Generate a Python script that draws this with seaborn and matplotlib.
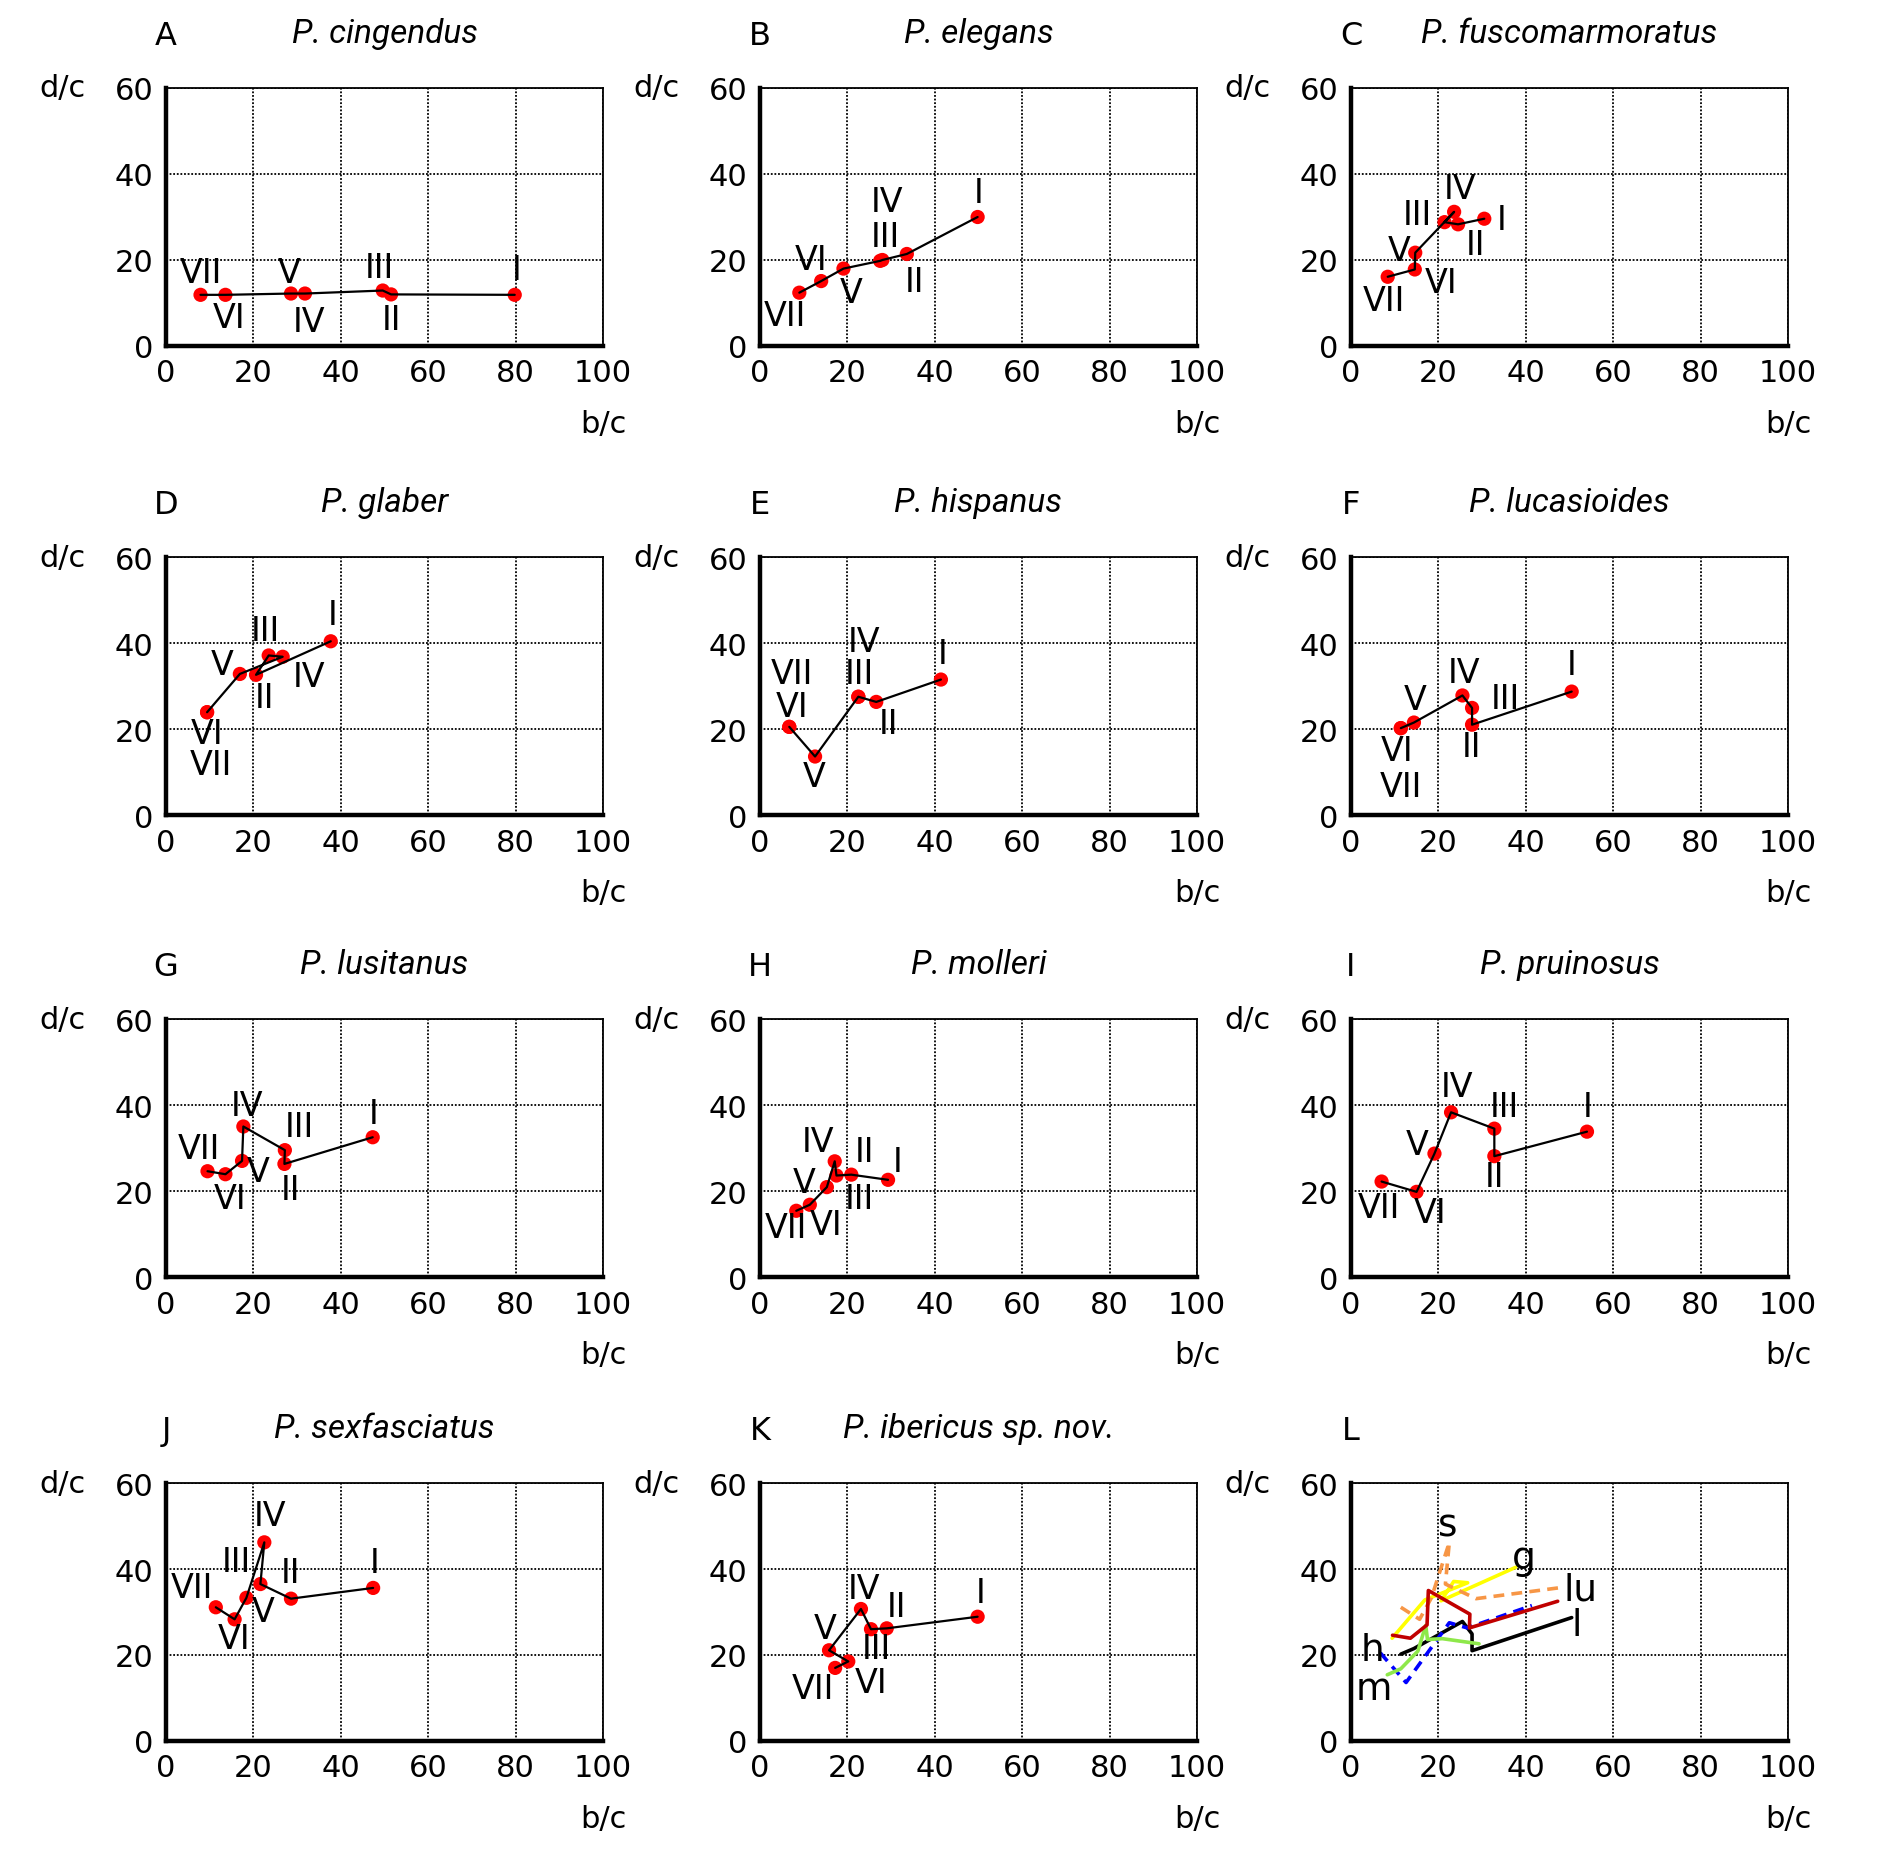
import matplotlib
matplotlib.use("Agg")
import matplotlib.pyplot as plt
import seaborn as sns

# ---------------- data ----------------
stages = ["VII", "VI", "V", "IV", "III", "II", "I"]

panel_letters = ["A", "B", "C", "D", "E", "F", "G", "H", "I", "J", "K", "L"]
species = ["P. cingendus", "P. elegans", "P. fuscomarmoratus", "P. glaber",
           "P. hispanus", "P. lucasioides", "P. lusitanus", "P. molleri",
           "P. pruinosus", "P. sexfasciatus", "P. ibericus sp. nov.", ""]

cingendus_bc = [7.9, 13.6, 28.6, 31.8, 49.6, 51.5, 79.8]
cingendus_dc = [11.9, 11.9, 12.2, 12.2, 12.9, 12.0, 11.9]
elegans_bc = [9.0, 14.0, 19.1, 27.5, 28.0, 33.6, 49.8]
elegans_dc = [12.4, 15.1, 18.0, 19.8, 20.0, 21.4, 30.0]
fuscomarmoratus_bc = [8.4, 14.6, 14.7, 23.6, 21.4, 24.5, 30.5]
fuscomarmoratus_dc = [16.1, 17.8, 21.7, 31.2, 28.8, 28.3, 29.6]
glaber_bc = [9.4, 9.4, 16.9, 26.7, 23.5, 20.6, 37.7]
glaber_dc = [23.9, 23.9, 32.8, 36.8, 37.1, 32.6, 40.4]
hispanus_bc = [6.7, 6.7, 12.6, 22.5, 22.5, 26.6, 41.4]
hispanus_dc = [20.5, 20.5, 13.6, 27.5, 27.5, 26.3, 31.5]
lucasioides_bc = [11.4, 11.4, 14.4, 25.5, 27.7, 27.7, 50.5]
lucasioides_dc = [20.2, 20.2, 21.5, 27.8, 24.9, 21.0, 28.7]
lusitanus_bc = [9.5, 13.6, 17.4, 17.7, 27.2, 27.1, 47.3]
lusitanus_dc = [24.6, 23.9, 27.0, 35.0, 29.5, 26.3, 32.5]
molleri_bc = [8.3, 11.4, 15.3, 17.1, 17.5, 20.9, 29.3]
molleri_dc = [15.4, 16.8, 20.9, 26.9, 23.6, 23.8, 22.6]
pruinosus_bc = [7.0, 15.0, 19.1, 22.9, 32.8, 32.8, 54.0]
pruinosus_dc = [22.2, 19.8, 28.7, 38.3, 34.5, 28.1, 33.8]
sexfasciatus_bc = [11.4, 15.7, 18.4, 22.5, 21.6, 28.6, 47.4]
sexfasciatus_dc = [31.1, 28.3, 33.3, 46.2, 36.5, 33.1, 35.6]
ibericus_bc = [17.2, 20.2, 15.8, 23.1, 25.4, 29.0, 49.8]
ibericus_dc = [17.0, 18.5, 21.1, 30.7, 26.0, 26.2, 28.9]

series_bc = [cingendus_bc, elegans_bc, fuscomarmoratus_bc, glaber_bc, hispanus_bc,
             lucasioides_bc, lusitanus_bc, molleri_bc, pruinosus_bc, sexfasciatus_bc,
             ibericus_bc]
series_dc = [cingendus_dc, elegans_dc, fuscomarmoratus_dc, glaber_dc, hispanus_dc,
             lucasioides_dc, lusitanus_dc, molleri_dc, pruinosus_dc, sexfasciatus_dc,
             ibericus_dc]

x_ticks = [0, 20, 40, 60, 80, 100]
y_ticks = [0, 20, 40, 60]

# comparison panel L
compare_keys = ["g", "s", "l", "h", "m", "lu"]

# ---------------- layout / style (not data) ----------------
# roman-numeral label positions (data coords), order VII..I
label_pos = [
    [(7.9, 17.2), (14.5, 6.6), (28.2, 17.2), (32.7, 5.8), (48.9, 18.2), (51.5, 6.2), (80.2, 17.8)],
    [(5.7, 7.1), (11.7, 20.1), (20.9, 12.4), (29.1, 33.5), (28.7, 25.5), (35.3, 15.0), (50.1, 35.8)],
    [(7.6, 10.6), (20.6, 14.7), (11.0, 22.1), (24.9, 36.6), (15.2, 30.5), (28.4, 23.6), (34.5, 29.4)],
    [(10.3, 11.8), (9.3, 19.0), (12.9, 35.1), (32.7, 32.2), (22.7, 43.0), (22.6, 27.4), (38.1, 46.7)],
    [(7.3, 32.9), (7.3, 25.3), (12.4, 9.0), (23.7, 40.4), (22.7, 32.9), (29.4, 21.3), (41.8, 37.5)],
    [(11.4, 6.7), (10.6, 15.1), (14.6, 26.8), (25.8, 33.2), (35.4, 27.0), (27.6, 16.0), (50.6, 34.9)],
    [(7.5, 29.8), (14.6, 18.3), (21.2, 24.5), (18.5, 39.9), (30.6, 35.0), (28.4, 20.4), (47.5, 38.1)],
    [(5.9, 11.4), (15.2, 12.2), (10.1, 22.0), (13.3, 31.4), (22.8, 18.2), (23.8, 29.2), (31.6, 26.9)],
    [(6.3, 16.2), (18.2, 15.0), (15.2, 30.8), (24.2, 44.3), (35.2, 39.7), (32.9, 23.3), (54.1, 39.6)],
    [(5.9, 35.6), (15.5, 23.8), (22.2, 30.2), (23.8, 52.5), (16.2, 41.8), (28.6, 39.2), (47.7, 41.4)],
    [(12.0, 12.2), (25.4, 13.7), (15.0, 26.2), (23.7, 35.5), (26.7, 21.4), (31.3, 31.2), (50.4, 34.5)],
]
compare_style = {
    "g": dict(idx=3, color="#ffff00", ls="-", text=(39.5, 42.5)),
    "s": dict(idx=9, color="#f79646", ls=(0, (3, 2)), text=(22.2, 50.1)),
    "l": dict(idx=5, color="black", ls="-", text=(51.7, 27.0)),
    "h": dict(idx=4, color="#0000ff", ls=(0, (3, 2)), text=(4.9, 21.2)),
    "m": dict(idx=7, color="#8ee84a", ls="-", text=(5.3, 12.0)),
    "lu": dict(idx=6, color="#c00000", ls="-", text=(52.6, 35.3)),
}

sns.set_style("white")
plt.rcParams["font.family"] = ["DejaVu Sans"]
plt.rcParams["text.color"] = "black"
plt.rcParams["xtick.color"] = "black"
plt.rcParams["ytick.color"] = "black"
plt.rcParams["xtick.labelcolor"] = "black"
plt.rcParams["ytick.labelcolor"] = "black"

W, H = 1893, 1856
fig = plt.figure(figsize=(W / 100, H / 100), dpi=100)

col_left = [166, 760, 1351]
row_bottom = [347, 816, 1278, 1742]
ax_w, ax_h = 437, 258

title_font = ["Roboto", "DejaVu Sans"]

for i in range(12):
    r, c = divmod(i, 3)
    left = col_left[c] / W
    bottom = 1 - row_bottom[r] / H
    ax = fig.add_axes([left, bottom, ax_w / W, ax_h / H])
    ax.set_xlim(0, 100)
    ax.set_ylim(0, 60)
    ax.set_xticks(x_ticks)
    ax.set_yticks(y_ticks)
    ax.grid(True, linestyle=(0, (1, 1)), color="black", lw=1.3)
    ax.set_axisbelow(True)
    for s in ["left", "bottom"]:
        ax.spines[s].set_linewidth(3.2)
        ax.spines[s].set_color("black")
    for s in ["top", "right"]:
        ax.spines[s].set_linewidth(1.3)
        ax.spines[s].set_linestyle((0, (1, 1)))
        ax.spines[s].set_color("black")
    ax.tick_params(length=0, labelsize=22, pad=9, colors="black")

    if i < 11:
        bc, dc = series_bc[i], series_dc[i]
        sns.scatterplot(x=bc, y=dc, ax=ax, color="#ff0000", s=105,
                        edgecolor="none", zorder=3, legend=False)
        sns.lineplot(x=bc, y=dc, ax=ax, sort=False, estimator=None,
                     color="black", lw=1.6, zorder=4, legend=False)
        for lab, (tx, ty) in zip(stages, label_pos[i]):
            ax.text(tx, ty, lab, fontsize=24, ha="center", va="center",
                    color="black", zorder=5)
    else:
        for key in compare_keys:
            st = compare_style[key]
            sns.lineplot(x=series_bc[st["idx"]], y=series_dc[st["idx"]], ax=ax,
                         sort=False, estimator=None, color=st["color"],
                         lw=2.6, linestyle=st["ls"], legend=False, zorder=3)
            tx, ty = st["text"]
            ax.text(tx, ty, key, fontsize=27, ha="center", va="center",
                    color="black", zorder=5)

    ax.set_xlabel("")
    ax.set_ylabel("")
    ax.text(-0.236, 1.0, "d/c", transform=ax.transAxes, fontsize=22,
            ha="center", va="center", color="black")
    ax.text(1.0, -0.30, "b/c", transform=ax.transAxes, fontsize=22,
            ha="center", va="center", color="black")
    ax.text(0.0, 1.205, panel_letters[i], transform=ax.transAxes, fontsize=23,
            ha="center", va="center", color="black")
    if species[i]:
        ax.text(0.5, 1.213, species[i], transform=ax.transAxes, fontsize=24,
                ha="center", va="center", style="italic", family=title_font,
                color="black")

fig.savefig("out.png", dpi=100)
